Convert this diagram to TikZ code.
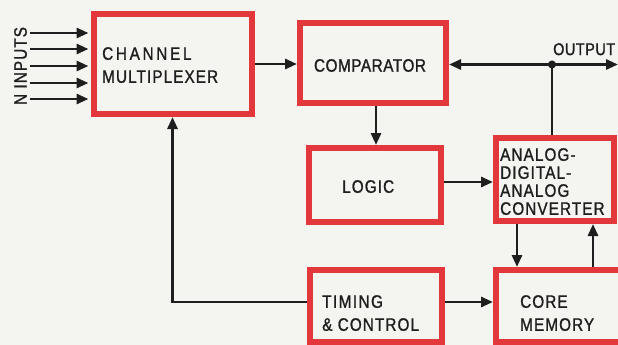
\documentclass[tikz,border=0pt]{standalone}
\usepackage{fontspec}
\usetikzlibrary{arrows.meta,calc}
\newfontfamily\lbl{Liberation Sans}[FakeStretch=0.85,LetterSpace=6,FakeBold=1.2]
\definecolor{boxred}{RGB}{226,56,60}
\definecolor{paper}{RGB}{244,244,241}
\definecolor{ink}{RGB}{30,30,30}
\begin{document}
\begin{tikzpicture}[x=1pt,y=-1pt,
  box/.style={draw=boxred,line width=6pt,minimum width=#1,inner sep=0pt},
  txt/.style={inner sep=0pt,anchor=north west,align=left,text=ink,font=\lbl\fontsize{18}{23}\selectfont},
  wire/.style={draw=ink,line width=2.8pt},
  arr/.style={wire,-{Triangle[length=12pt,width=10pt]}},
  ]
\fill[paper] (0,0) rectangle (618,345);
\useasboundingbox (0,0) rectangle (618,345);
\clip (0,0) rectangle (618,345);
% boxes
\node[box=158pt,minimum height=100pt] (mux) at (172.5,64) {};
\node[box=146pt,minimum height=80pt] (comp) at (373,63) {};
\node[box=132pt,minimum height=74pt] (logic) at (375,185) {};
\node[box=118pt,minimum height=83pt] (ada) at (555,179.5) {};
\node[box=132pt,minimum height=72pt] (timing) at (376,306) {};
\node[box=126pt,minimum height=72pt] (core) at (559,306) {};
% texts
\node[txt] (muxt) at (102,47) {\addfontfeatures{LetterSpace=15}CHANNEL\\MULTIPLEXER};
\node[txt,anchor=center] (compt) at (370,65.5) {\addfontfeatures{LetterSpace=3}COMPARATOR};
\node[txt] (logict) at (342,180) {LOGIC};
\node[txt,font=\lbl\fontsize{18}{18}\selectfont] (adat) at (500,148) {ANALOG-\\DIGITAL-\\ANALOG\\CONVERTER};
\node[txt] (timingt) at (322,295) {\addfontfeatures{LetterSpace=8}TIMING\\\&\ CONTROL};
\node[txt] (coret) at (520,295) {CORE\\MEMORY};
\node[txt,font=\lbl\fontsize{17}{17}\selectfont] (outt) at (553,43) {\addfontfeatures{LetterSpace=3}OUTPUT};
\node[txt,anchor=center,rotate=90] (inpt) at (20.5,66) {N INPUTS};
% inputs
\foreach \i/\yy in {1/33,2/49,3/66,4/83,5/99}{
  \coordinate (in\i) at (30,\yy);
  \draw[arr,shorten >=2pt] (in\i) -- (in\i -| mux.west);
}
% connectors
\draw[arr] (mux.east) -- (mux.east -| comp.west);
\coordinate (dot) at (552,64.5);
\coordinate (outend) at (618,64.5);
\draw[arr] (dot) -- (dot -| comp.east);
\draw[arr] (dot) -- (outend);
\fill[ink] (dot) circle (4pt);
\draw[wire] (dot) -- (dot |- ada.north);
\draw[arr] ([xshift=3pt]comp.south) -- ([xshift=3pt]comp.south |- logic.north);
\draw[arr] ([yshift=3pt]logic.east) -- ([yshift=3pt]logic.east -| ada.west);
\draw[arr] ([xshift=-38pt]ada.south) -- ([xshift=-38pt]ada.south |- core.north);
\draw[arr] ([xshift=38pt]ada.south |- core.north) -- ([xshift=38pt]ada.south);
\draw[arr] ([yshift=4pt]timing.east) -- ([yshift=4pt]timing.east -| core.west);
\draw[arr] ([yshift=4pt]timing.west) -| (mux.south);
\end{tikzpicture}
\end{document}
